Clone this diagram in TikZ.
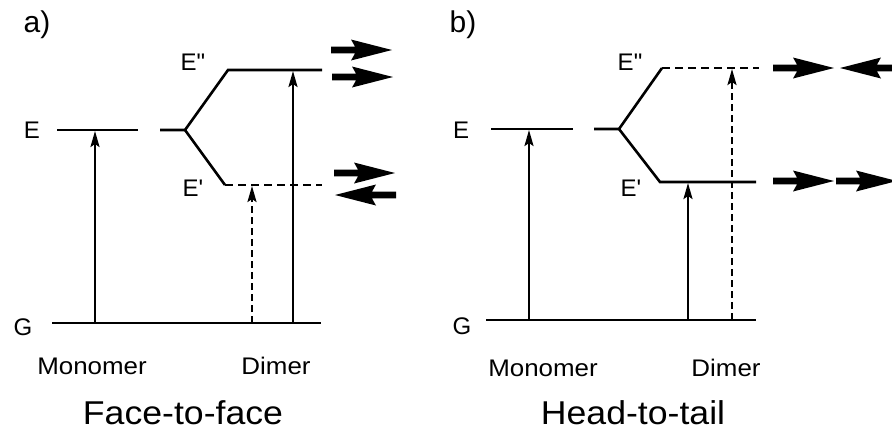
\documentclass[tikz,border=0pt]{standalone}
\usepackage{fontspec}
\setmainfont{Liberation Sans}[Ligatures=TeXOff]
\usetikzlibrary{arrows.meta}
\newcommand{\wtext}[1]{\scalebox{1.08}[1]{#1}}
\tikzset{
  level/.style={line width=2.6pt},
  dlevel/.style={line width=2.6pt, dash pattern=on 8pt off 5pt},
  trans/.style={line width=2.3pt, -{Stealth[length=16pt,width=9pt,inset=3pt]}},
  dtrans/.style={trans, dash pattern=on 7pt off 4pt},
  lab/.style={inner sep=0pt, font=\fontsize{24}{28}\selectfont},
  xlab/.style={inner sep=0pt, font=\fontsize{24}{28}\selectfont},
  title/.style={inner sep=0pt, font=\fontsize{33}{38}\selectfont},
  panel/.style={inner sep=0pt, font=\fontsize{30}{34}\selectfont},
  bigarrow/.pic={\fill (0,-3.4) -- (24,-3.4) -- (20,-10.5) -- (61,0) -- (20,10.5) -- (24,3.4) -- (0,3.4) -- cycle;}
}
\begin{document}
\begin{tikzpicture}[x=1pt,y=-1pt]
\useasboundingbox (0,0) rectangle (892,432);
\clip (0,0) rectangle (892,432);
% ---------------- panel a ----------------
\node[panel] (pa) at (37,25) {a)};
\coordinate (aE1) at (57,130);  \coordinate (aE2) at (138,130);
\coordinate (aS1) at (160,130); \coordinate (aS2) at (185,130);
\coordinate (aU1) at (228,70);  \coordinate (aU2) at (322,70);
\coordinate (aL1) at (225,185); \coordinate (aL2) at (322,185);
\coordinate (aG1) at (52,323);  \coordinate (aG2) at (321,323);
\draw[level] (aE1) -- (aE2);
\draw[level] (aS1) -- (aS2) -- (aU1) -- (aU2);
\draw[level] (aS2) -- (aL1);
\draw[dlevel] (aL1) -- (aL2);
\draw[level] (aG1) -- (aG2);
\coordinate (aMg) at (95,323);  \coordinate (aMe) at (95,131);
\coordinate (aDg1) at (252,323); \coordinate (aDe1) at (252,186);
\coordinate (aDg2) at (293,323); \coordinate (aDe2) at (293,71);
\draw[trans] (aMg) -- (aMe);
\draw[dtrans] (aDg1) -- (aDe1);
\draw[trans] (aDg2) -- (aDe2);
\node[lab] (aEl) at (32,130) {E};
\node[lab] (aEpp) at (193,62) {E"};
\node[lab] (aEp) at (193,188) {E'};
\node[lab] (aGl) at (23,327) {G};
\node[xlab] (aMon) at (92,366) {\wtext{Monomer}};
\node[xlab] (aDim) at (276,366) {\wtext{Dimer}};
\node[title] (aT) at (183,413) {\wtext{Face-to-face}};
\pic at (331,50) {bigarrow};
\pic at (332,77) {bigarrow};
\pic at (334,173) {bigarrow};
\pic[rotate=180] at (396,195) {bigarrow};
% ---------------- panel b ----------------
\node[panel] (pb) at (463,25) {b)};
\coordinate (bE1) at (491,129);  \coordinate (bE2) at (573,129);
\coordinate (bS1) at (594,129);  \coordinate (bS2) at (619,129);
\coordinate (bU1) at (662,68);   \coordinate (bU2) at (759,68);
\coordinate (bL1) at (660,182);  \coordinate (bL2) at (756,182);
\coordinate (bG1) at (486,320);  \coordinate (bG2) at (756,320);
\draw[level] (bE1) -- (bE2);
\draw[level] (bS1) -- (bS2) -- (bU1);
\draw[dlevel] (bU1) -- (bU2);
\draw[level] (bS2) -- (bL1) -- (bL2);
\draw[level] (bG1) -- (bG2);
\coordinate (bMg) at (529,320);  \coordinate (bMe) at (529,130);
\coordinate (bDg1) at (688,320); \coordinate (bDe1) at (688,183);
\coordinate (bDg2) at (732,320); \coordinate (bDe2) at (732,69);
\draw[trans] (bMg) -- (bMe);
\draw[trans] (bDg1) -- (bDe1);
\draw[dtrans] (bDg2) -- (bDe2);
\node[lab] (bEl) at (461,130) {E};
\node[lab] (bEpp) at (630,62) {E"};
\node[lab] (bEp) at (631,188) {E'};
\node[lab] (bGl) at (462,326) {G};
\node[xlab] (bMon) at (543,368) {\wtext{Monomer}};
\node[xlab] (bDim) at (726,368) {\wtext{Dimer}};
\node[title] (bT) at (633,413) {\wtext{Head-to-tail}};
\pic at (773,68) {bigarrow};
\pic[rotate=180] at (901,68) {bigarrow};
\pic at (773,181) {bigarrow};
\pic at (836,181) {bigarrow};
\end{tikzpicture}
\end{document}
